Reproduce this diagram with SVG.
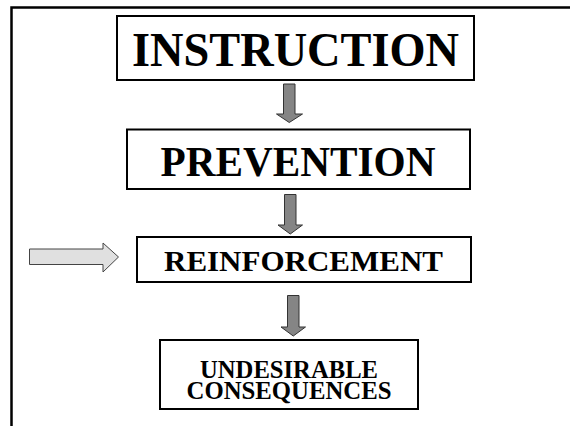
<svg xmlns="http://www.w3.org/2000/svg" width="570" height="426" viewBox="0 0 570 426">
<style>
.box{fill:#fff;stroke:#000;stroke-width:2}
.t{font-family:"Liberation Serif","Times New Roman",serif;font-weight:bold;fill:#000;text-anchor:middle}
.down{fill:#858585;stroke:#333;stroke-width:1}
.side{fill:#e0e0e0;stroke:#444;stroke-width:1}
</style>
<rect width="570" height="426" fill="#fff"/>
<path d="M11.5 426 V7.5 H570" fill="none" stroke="#000" stroke-width="2.5"/>
<g id="instruction">
<rect class="box" x="117" y="16" width="357" height="64"/>
<text class="t" x="295.5" y="65.5" font-size="49" textLength="327" lengthAdjust="spacingAndGlyphs">INSTRUCTION</text>
</g>
<g id="prevention">
<rect class="box" x="127" y="129.5" width="343" height="59.5"/>
<text class="t" x="298" y="175.5" font-size="42" textLength="275" lengthAdjust="spacingAndGlyphs">PREVENTION</text>
</g>
<g id="reinforcement">
<rect class="box" x="137" y="237" width="334" height="45"/>
<text class="t" x="303.5" y="271" font-size="30" textLength="279" lengthAdjust="spacingAndGlyphs">REINFORCEMENT</text>
</g>
<g id="consequences">
<rect class="box" x="160" y="340" width="258" height="69"/>
<text class="t" x="289" y="378" font-size="25" textLength="178" lengthAdjust="spacingAndGlyphs">UNDESIRABLE</text>
<text class="t" x="289" y="399" font-size="25" textLength="205" lengthAdjust="spacingAndGlyphs">CONSEQUENCES</text>
</g>
<g id="connectors">
<path class="down" d="M283.5 84 H295 V114 H302.5 L289.25 122.5 L276.5 114 H283.5 Z"/>
<path class="down" d="M284.5 194.5 H296 V225 H302.5 L290.25 234 L278 225 H284.5 Z"/>
<path class="down" d="M287.5 295.5 H299 V327 H305.5 L293.25 336 L281 327 H287.5 Z"/>
<path class="side" d="M29.5 249 H103 V243 L118.5 257 L103 272 V264.5 H29.5 Z"/>
</g>
</svg>
